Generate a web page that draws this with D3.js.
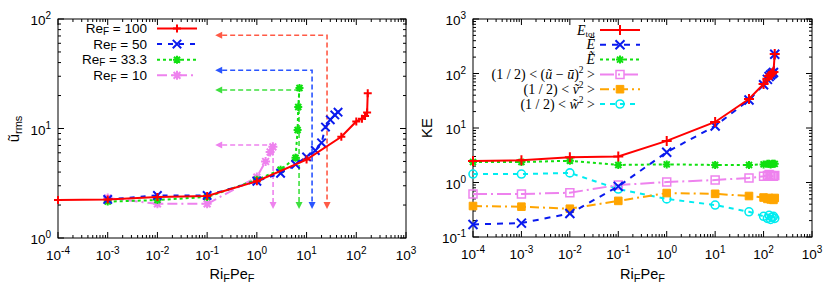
<!DOCTYPE html>
<html><head><meta charset="utf-8">
<script src="https://cdn.jsdelivr.net/npm/d3@7"></script>
<style>
body{margin:0;background:#fff}
svg{display:block}
text{font-family:"Liberation Sans",Arial,sans-serif;fill:#000}
.serif{font-family:"Liberation Serif","Times New Roman",serif}
</style></head><body>
<svg id="c" width="830" height="291"></svg>
<script>
// ---------- DATA: left panel (u_rms vs Ri_F Pe_F) ----------
const re100X = [1e-4, 1e-3, 1e-2, 0.1, 1, 10, 50, 100, 130, 150, 165, 170];
const re100Y = [2.22, 2.25, 2.37, 2.42, 3.3, 5.2, 8.4, 11.6, 12.3, 13.0, 14.0, 21.0];
const re50X  = [1e-3, 1e-2, 0.1, 1, 3, 6, 10, 15, 20, 24, 30, 37, 43];
const re50Y  = [2.25, 2.45, 2.45, 3.3, 3.9, 4.7, 5.5, 6.3, 7.4, 10.3, 12.0, 13.3, 14.1];
const re33X  = [1e-3, 1e-2, 0.1, 1, 3, 6, 6.6, 6.8, 7.2];
const re33Y  = [2.15, 2.22, 2.37, 3.4, 4.2, 5.4, 9.7, 15.7, 23.4];
const re10X  = [1e-3, 1e-2, 0.1, 1, 1.5, 1.85, 2.1];
const re10Y  = [2.32, 2.05, 2.05, 3.6, 5.0, 6.1, 6.8];
const leftLabels = ["100", "50", "33.3", "10"];
// critical points marked by dashed arrows (corner x, corner y)
const arrowX = [25.8, 12.9, 7.06, 2.12];
const arrowY = [71, 34, 22.5, 7.07];
const arrowLeftTip = 0.145;   // x value where horizontal arrows end
const arrowDownTip = 1.84;    // y value where vertical arrows end

// ---------- DATA: right panel (KE vs Ri_F Pe_F) ----------
const riX  = [1e-4, 1e-3, 1e-2, 0.1, 1, 10, 50, 100, 120, 130, 140, 150, 160, 170];
const eTot = [2.48, 2.55, 2.9, 3.0, 5.8, 12.9, 34, 64, 80, 90, 96, 101, 106, 228];
const eBar = [0.17, 0.18, 0.27, 0.85, 3.6, 10.9, 32.7, 62, 78, 88, 94, 99, 104, 225];
const eTil = [2.38, 2.38, 2.5, 2.1, 2.15, 2.1, 2.1, 2.15, 2.2, 2.2, 2.15, 2.2, 2.2, 2.2];
const uuKE = [0.615, 0.615, 0.65, 0.9, 1.02, 1.11, 1.21, 1.3, 1.35, 1.4, 1.35, 1.3, 1.3, 1.35];
const vvKE = [0.37, 0.36, 0.33, 0.46, 0.64, 0.62, 0.565, 0.53, 0.5, 0.52, 0.49, 0.5, 0.48, 0.52];
const wwKE = [1.43, 1.43, 1.5, 0.76, 0.5, 0.386, 0.29, 0.24, 0.22, 0.25, 0.21, 0.23, 0.24, 0.22];

const xDomain = [1e-4, 1e3];
const yDomainL = [1, 100];
const yDomainR = [0.1, 1000];

// ---------- drawing ----------
const svg = d3.select("#c");
const xL = d3.scaleLog().domain(xDomain).range([58, 406]);
const yL = d3.scaleLog().domain(yDomainL).range([238, 19]);
const xR = d3.scaleLog().domain(xDomain).range([473, 812]);
const yR = d3.scaleLog().domain(yDomainR).range([237, 19]);

function symPath(t, s){
  if(t==="+") return `M${-s},0H${s}M0,${-s}V${s}`;
  if(t==="x") return `M${-s},${-s}L${s},${s}M${-s},${s}L${s},${-s}`;
  if(t==="*") return `M${-s},0H${s}M0,${-s}V${s}M${-s*0.75},${-s*0.75}L${s*0.75},${s*0.75}M${-s*0.75},${s*0.75}L${s*0.75},${-s*0.75}`;
  if(t==="sq") return `M${-s},${-s}H${s}V${s}H${-s}Z`;
  return "";
}
function marker(g, t, x, y, color, s){
  if(t==="o"){
    g.append("circle").attr("cx",x).attr("cy",y).attr("r",s).attr("fill","none").attr("stroke",color).attr("stroke-width",1.6);
  } else if(t==="sqf"){
    g.append("path").attr("transform",`translate(${x},${y})`).attr("d",symPath("sq",s)).attr("fill",color).attr("stroke",color).attr("stroke-width",1);
  } else if(t==="sq"){
    g.append("path").attr("transform",`translate(${x},${y})`).attr("d",symPath("sq",s)).attr("fill","none").attr("stroke",color).attr("stroke-width",1.5);
  } else {
    g.append("path").attr("transform",`translate(${x},${y})`).attr("d",symPath(t,s)).attr("fill","none").attr("stroke",color).attr("stroke-width",2);
  }
}

function frame(x, y){
  const g = svg.append("g");
  const [x0,x1] = x.range(), [y0,y1] = y.range();
  function logTicks(sc){
    const [a,b] = sc.domain(); const out=[];
    for(let e=Math.round(Math.log10(a)); e<Math.round(Math.log10(b)); e++){
      for(let m=1;m<10;m++) out.push({v:m*Math.pow(10,e), major:m===1});
    }
    out.push({v:b, major:true});
    return out;
  }
  logTicks(x).forEach(t=>{
    const px = x(t.v), L = t.major?6:3;
    g.append("line").attr("x1",px).attr("x2",px).attr("y1",y0).attr("y2",y0-L).attr("stroke","#000");
    g.append("line").attr("x1",px).attr("x2",px).attr("y1",y1).attr("y2",y1+L).attr("stroke","#000");
  });
  logTicks(y).forEach(t=>{
    const py = y(t.v), L = t.major?6:3;
    g.append("line").attr("y1",py).attr("y2",py).attr("x1",x0).attr("x2",x0+L).attr("stroke","#000");
    g.append("line").attr("y1",py).attr("y2",py).attr("x1",x1).attr("x2",x1-L).attr("stroke","#000");
  });
  g.append("rect").attr("x",x0).attr("y",y1).attr("width",x1-x0).attr("height",y0-y1)
    .attr("fill","none").attr("stroke","#000").attr("stroke-width",1);
  logTicks(x).filter(t=>t.major).forEach(t=>{
    const e = Math.round(Math.log10(t.v));
    const tx = g.append("text").attr("x",x(t.v)).attr("y",y0+22).attr("text-anchor","middle").attr("font-size",13.5);
    tx.append("tspan").text("10");
    tx.append("tspan").attr("dy",-6).attr("font-size",10).text(e);
  });
  logTicks(y).filter(t=>t.major).forEach(t=>{
    const e = Math.round(Math.log10(t.v));
    const tx = g.append("text").attr("x",x0-7).attr("y",y(t.v)+6).attr("text-anchor","end").attr("font-size",13.5);
    tx.append("tspan").text("10");
    tx.append("tspan").attr("dy",-6).attr("font-size",10).text(e);
  });
  const xl = g.append("text").attr("x",(x0+x1)/2).attr("y",279).attr("text-anchor","middle").attr("font-size",14.5);
  xl.append("tspan").text("Ri");
  xl.append("tspan").attr("dy",3).attr("font-size",11).text("F");
  xl.append("tspan").attr("dy",-3).text("Pe");
  xl.append("tspan").attr("dy",3).attr("font-size",11).text("F");
  return g;
}

function series(g, x, y, xs, ys, color, dash, sym, s){
  const line = d3.line().x(d=>x(d[0])).y(d=>y(d[1]));
  const pts = xs.map((v,i)=>[v, ys[i]]);
  g.append("path").attr("d",line(pts)).attr("fill","none").attr("stroke",color)
    .attr("stroke-width",2).attr("stroke-dasharray",dash||null);
  pts.forEach(p=>marker(g, sym, x(p[0]), y(p[1]), color, s));
}

// ===== LEFT PANEL =====
frame(xL, yL);
const gl = svg.append("g");
const arrowColors = ["#ff5a46", "#2a55ff", "#3ee03e", "#ee82ee"];
arrowX.forEach((ax,i)=>{
  const cx = xL(ax), cy = yL(arrowY[i]);
  const lx = xL(arrowLeftTip), by = yL(arrowDownTip);
  const c = arrowColors[i];
  gl.append("path").attr("d",`M${lx+7},${cy}H${cx}V${by-7}`).attr("fill","none").attr("stroke",c)
    .attr("stroke-width",1.6).attr("stroke-dasharray","5,3");
  gl.append("path").attr("d",`M${lx},${cy}l7,-3.5v7z`).attr("fill",c);
  gl.append("path").attr("d",`M${cx},${by}l-3.5,-7h7z`).attr("fill",c);
});
series(gl, xL, yL, re10X, re10Y, "#ee82ee", "10,4,2,4", "*", 4.5);
series(gl, xL, yL, re33X, re33Y, "#10e010", "3,3", "*", 4);
series(gl, xL, yL, re50X, re50Y, "#0a1aee", "5,6", "x", 4.2);
series(gl, xL, yL, re100X, re100Y, "#ff0000", null, "+", 4);
const yl = svg.append("text").attr("transform","translate(19,129) rotate(-90)").attr("text-anchor","middle").attr("font-size",15);
yl.append("tspan").text("u\u0303");
yl.append("tspan").attr("dy",3).attr("font-size",11).text("rms");
const legL = [
  {lab:leftLabels[0], c:"#ff0000", d:null, s:"+", sz:4},
  {lab:leftLabels[1], c:"#0a1aee", d:"5,6", s:"x", sz:4.2},
  {lab:leftLabels[2], c:"#10e010", d:"3,3", s:"*", sz:4},
  {lab:leftLabels[3], c:"#ee82ee", d:"10,4,2,4", s:"*", sz:4.5}
];
legL.forEach((e,i)=>{
  const yy = 28.5 + i*15.6;
  const t = svg.append("text").attr("x",147).attr("y",yy+4.5).attr("text-anchor","end").attr("font-size",13.5);
  t.append("tspan").text("Re");
  t.append("tspan").attr("dy",2).attr("font-size",10).text("F");
  t.append("tspan").attr("dy",-2).text(" = "+e.lab);
  svg.append("line").attr("x1",157).attr("x2",197).attr("y1",yy).attr("y2",yy).attr("stroke",e.c).attr("stroke-width",2).attr("stroke-dasharray",e.d);
  marker(svg, e.s, 177, yy, e.c, e.sz);
});

// ===== RIGHT PANEL =====
frame(xR, yR);
const gr = svg.append("g");
const rs = [
  {ys:wwKE, c:"#00ecf0", d:"5,5", s:"o", sz:4},
  {ys:vvKE, c:"#ffa500", d:"9,4,2,4", s:"sqf", sz:3.8},
  {ys:uuKE, c:"#ee82ee", d:"14,4,2,4", s:"sq", sz:4},
  {ys:eTil, c:"#10e010", d:"3,3", s:"*", sz:4},
  {ys:eBar, c:"#0a1aee", d:"6,6", s:"x", sz:4.5},
  {ys:eTot, c:"#ff0000", d:null, s:"+", sz:5}
];
rs.forEach(r=>series(gr, xR, yR, riX, r.ys, r.c, r.d, r.s, r.sz));
svg.append("text").attr("transform","translate(432,128) rotate(-90)").attr("text-anchor","middle").attr("font-size",15).text("KE");
const legR = [...rs].reverse();
const labR = [
  t=>{t.append("tspan").attr("font-style","italic").text("E"); t.append("tspan").attr("dy",2).attr("font-size",9).text("tot");},
  t=>{t.append("tspan").attr("font-style","italic").text("\u0112");},
  t=>{t.append("tspan").attr("font-style","italic").text("\u1EBC");},
  t=>{t.append("tspan").text("(1 / 2) < (");t.append("tspan").attr("font-style","italic").text("\u0169");t.append("tspan").text(" \u2212 ");t.append("tspan").attr("font-style","italic").text("\u016B");t.append("tspan").text(")");t.append("tspan").attr("dy",-6).attr("font-size",9.5).text("2");t.append("tspan").attr("dy",6).text(" >");},
  t=>{t.append("tspan").text("(1 / 2) < ");t.append("tspan").attr("font-style","italic").text("\u1E7D");t.append("tspan").attr("dy",-6).attr("font-size",9.5).text("2");t.append("tspan").attr("dy",6).text(" >");},
  t=>{t.append("tspan").text("(1 / 2) < ");t.append("tspan").attr("font-style","italic").text("w\u0303");t.append("tspan").attr("dy",-6).attr("font-size",9.5).text("2");t.append("tspan").attr("dy",6).text(" >");}
];
legR.forEach((e,i)=>{
  const yy = 30 + i*14.8;
  const t = svg.append("text").attr("class","serif").attr("x",595).attr("y",yy+4.5).attr("text-anchor","end").attr("font-size",14);
  labR[i](t);
  svg.append("line").attr("x1",600).attr("x2",640).attr("y1",yy).attr("y2",yy).attr("stroke",e.c).attr("stroke-width",2).attr("stroke-dasharray",e.d);
  marker(svg, e.s, 620, yy, e.c, e.sz);
});
</script></body></html>
